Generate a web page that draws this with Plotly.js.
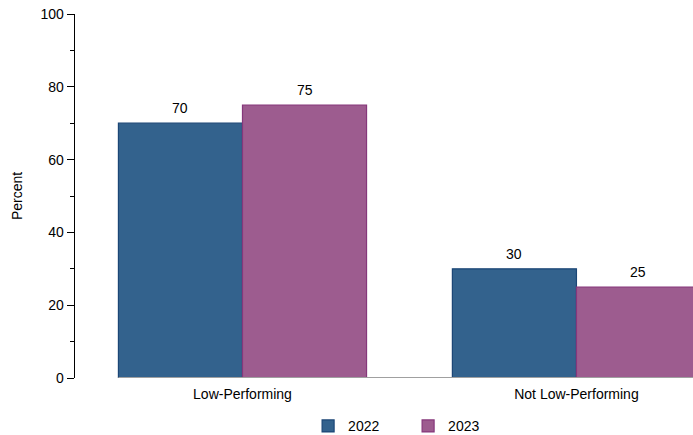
<!DOCTYPE html>
<html>
<head>
<meta charset="utf-8">
<script src="https://cdn.plot.ly/plotly-3.0.1.min.js"></script>
<style>
  html, body { margin: 0; padding: 0; background: #ffffff; }
  #chart { width: 693px; height: 435px; }
</style>
</head>
<body>
<div id="chart"></div>
<script>
var categories = ["Low-Performing", "Not Low-Performing"];
var seriesNames = ["2022", "2023"];
var values2022 = [70, 30];
var values2023 = [75, 25];
var yTickValues = [0, 20, 40, 60, 80, 100];
var yTickLabels = ["0", "20", "40", "60", "80", "100"];

var FONT = '"Liberation Sans", Arial, Helvetica, sans-serif';
var FS = 14;
var bargap = 0.257;
var barWidth = (1 - bargap) / 2;

function barTrace(name, vals, fill, line) {
  return {
    type: 'bar',
    name: name,
    x: categories,
    y: vals,
    marker: { color: fill, line: { color: line, width: 1.2 } },
    hoverinfo: 'none'
  };
}

var data = [
  barTrace(seriesNames[0], values2022, '#33628d', '#1b4676'),
  barTrace(seriesNames[1], values2023, '#9d5c8f', '#86377b')
];

// value labels above bars, positioned through the axis scales
var annotations = [];
[values2022, values2023].forEach(function (vals, s) {
  vals.forEach(function (v, i) {
    annotations.push({
      xref: 'x', yref: 'y',
      x: i + (s === 0 ? -barWidth / 2 : barWidth / 2),
      y: v,
      text: String(v),
      showarrow: false,
      xanchor: 'center', yanchor: 'bottom',
      yshift: 5,
      font: { family: FONT, size: FS, color: '#000000' }
    });
  });
});

var layout = {
  width: 693,
  height: 435,
  margin: { l: 75, r: 0, t: 14, b: 57, pad: 0, autoexpand: false },
  paper_bgcolor: '#ffffff',
  plot_bgcolor: '#ffffff',
  font: { family: FONT, size: FS, color: '#000000' },
  barmode: 'group',
  bargap: bargap,
  bargroupgap: 0,
  showlegend: true,
  legend: {
    orientation: 'h',
    xref: 'paper', x: 0.539, xanchor: 'center',
    yref: 'container', y: 0.02, yanchor: 'middle',
    entrywidth: 55, entrywidthmode: 'pixels',
    font: { family: FONT, size: FS, color: '#000000' },
    itemclick: false, itemdoubleclick: false
  },
  xaxis: {
    type: 'category',
    range: [-0.5015, 1.349],
    showline: false,
    showgrid: false,
    zeroline: false,
    ticks: '',
    ticklabelstandoff: 6,
    tickfont: { family: FONT, size: FS, color: '#000000' },
    fixedrange: true
  },
  yaxis: {
    range: [0, 100],
    tickvals: yTickValues,
    ticktext: yTickLabels,
    ticks: 'outside',
    ticklen: 7,
    tickwidth: 1,
    tickcolor: '#000000',
    showline: true,
    linecolor: '#000000',
    linewidth: 1.3,
    showgrid: false,
    zeroline: false,
    tickfont: { family: FONT, size: FS, color: '#000000' },
    minor: { dtick: 10, tick0: 0, ticks: 'outside', ticklen: 4, tickcolor: '#000000', tickwidth: 1, showgrid: false },
    title: { text: 'Percent', font: { family: FONT, size: FS, color: '#000000' }, standoff: 14 },
    fixedrange: true
  },
  annotations: annotations,
  shapes: [{
    type: 'line', xref: 'x', yref: 'y',
    x0: -barWidth, x1: 1.6, y0: 0, y1: 0,
    line: { color: '#a0a0a0', width: 2 },
    layer: 'above'
  }]
};

Plotly.newPlot('chart', data, layout, { displayModeBar: false, staticPlot: true });
</script>
</body>
</html>
